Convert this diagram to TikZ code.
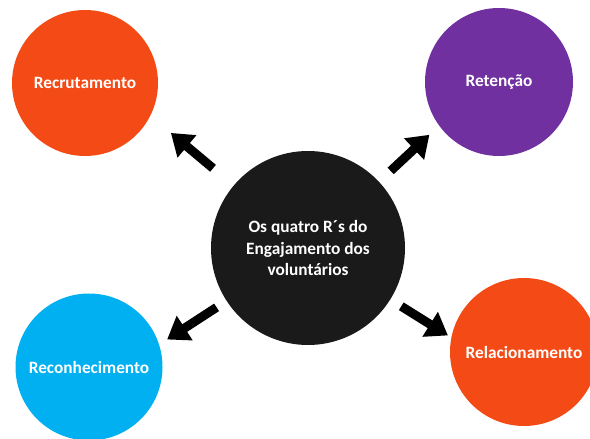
\documentclass[tikz,border=0pt]{standalone}
\usepackage{fontspec}
\setmainfont{Carlito}
\usepackage{tikz}
\usetikzlibrary{calc,arrows.meta}

\definecolor{rorange}{RGB}{244,75,22}
\definecolor{rpurple}{RGB}{112,48,160}
\definecolor{rblue}{RGB}{0,176,240}
\definecolor{rblack}{RGB}{26,26,26}

\begin{document}
\begin{tikzpicture}[x=1pt,y=1pt,
    rcircle/.style={circle,inner sep=0pt,text=white,
      font=\bfseries\fontsize{17.3}{21.5}\selectfont,align=center},
    bigarrow/.style={line width=9pt,-{Triangle[length=21pt,width=28pt]}}]
  \useasboundingbox (0,0) rectangle (590,439);

  %% The four R's round the hub
  \node[rcircle,fill=rblack,minimum size=194pt] (hub) at (308,191)
    {Os quatro R´s do\\Engajamento dos\\voluntários};
  \node[rcircle,fill=rorange,minimum size=146pt] (recr)  at (85,356)  {Recrutamento};
  \node[rcircle,fill=rpurple,minimum size=148pt] (ret)   at (499,357) {Retenção};
  \node[rcircle,fill=rblue,minimum size=147pt]   (recon) at (89,72)   {Reconhecimento};
  \node[rcircle,fill=rorange,minimum size=148pt] (rel)   at (524,87)  {Relacionamento};

  %% Arrows pointing out of the hub
  \foreach \name/\ang/\from/\to in {recr/140/124/179, ret/43/113/166,
                                    recon/213/109/168, rel/328/110/165}
  {
    \coordinate (\name-tip) at ($(hub.center)+(\ang:\to)$);
    \draw[bigarrow,shorten <=\from pt] (hub.center) -- (\name-tip);
  }
\end{tikzpicture}
\end{document}
